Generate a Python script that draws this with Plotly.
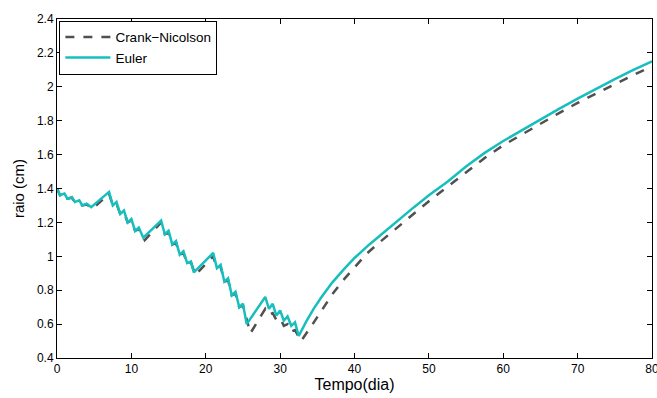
import plotly.graph_objects as go

# ---- data ----
euler_t = [0.0, 0.4, 1.0, 1.4, 2.0, 2.4, 3.0, 3.4, 4.0, 4.6, 7.0,
           7.5, 8.0, 8.5, 9.0, 9.5, 10.0, 10.5, 11.0, 11.6, 14.0,
           14.5, 15.0, 15.5, 16.0, 16.5, 17.0, 17.5, 18.0, 18.4, 21.0,
           21.5, 22.0, 22.5, 23.0, 23.5, 24.0, 24.5, 25.0, 25.5, 28.0,
           28.5, 29.0, 29.5, 30.0, 30.5, 31.0, 31.5, 32.0, 32.5,
           33.5, 34.5, 35.5, 37.0, 38.5, 40.0, 42.0, 44.0, 46.0, 48.0,
           50.0, 52.5, 55.0, 57.5, 60.0, 62.5, 65.0, 67.5, 70.0, 72.5,
           75.0, 77.5, 80.0]
euler_r = [1.40, 1.36, 1.37, 1.34, 1.35, 1.32, 1.33, 1.30, 1.31, 1.29, 1.38,
           1.30, 1.32, 1.25, 1.27, 1.20, 1.22, 1.15, 1.17, 1.11, 1.21,
           1.13, 1.15, 1.07, 1.09, 1.01, 1.03, 0.96, 0.97, 0.905, 1.02,
           0.93, 0.95, 0.85, 0.87, 0.77, 0.79, 0.70, 0.72, 0.60, 0.76,
           0.69, 0.72, 0.65, 0.68, 0.62, 0.645, 0.59, 0.61, 0.53,
           0.615, 0.69, 0.755, 0.845, 0.92, 0.99, 1.07, 1.145, 1.215, 1.29,
           1.36, 1.44, 1.53, 1.61, 1.68, 1.745, 1.81, 1.87, 1.93, 1.99,
           2.045, 2.10, 2.15]

cn_t = [0.0, 0.4, 1.0, 1.4, 2.0, 2.4, 3.0, 3.4, 4.0, 4.8, 7.0,
        7.5, 8.0, 8.5, 9.0, 9.5, 10.0, 10.5, 11.0, 11.8, 14.0,
        14.5, 15.0, 15.5, 16.0, 16.5, 17.0, 17.5, 18.0, 18.6, 21.0,
        21.5, 22.0, 22.5, 23.0, 23.5, 24.0, 24.5, 25.0, 26.0, 28.0,
        28.5, 29.0, 29.5, 30.0, 30.5, 31.0, 31.5, 32.0, 32.8,
        34.0, 35.6, 37.0, 38.5, 40.0, 41.7, 43.3, 44.8, 46.5, 48.4,
        50.0, 52.5, 55.0, 57.5, 60.0, 62.5, 65.0, 67.5, 70.0, 72.5,
        75.0, 77.5, 80.0]
cn_r = [1.40, 1.36, 1.37, 1.34, 1.345, 1.32, 1.325, 1.30, 1.305, 1.28, 1.37,
        1.30, 1.31, 1.25, 1.26, 1.20, 1.21, 1.15, 1.16, 1.095, 1.20,
        1.13, 1.14, 1.07, 1.08, 1.01, 1.02, 0.96, 0.965, 0.89, 1.00,
        0.93, 0.94, 0.85, 0.86, 0.77, 0.78, 0.70, 0.71, 0.546, 0.69,
        0.655, 0.665, 0.625, 0.635, 0.59, 0.60, 0.555, 0.565, 0.50,
        0.575, 0.683, 0.775, 0.86, 0.935, 1.018, 1.08, 1.136, 1.20, 1.27,
        1.325, 1.41, 1.495, 1.58, 1.655, 1.72, 1.785, 1.845, 1.905, 1.96,
        2.015, 2.07, 2.12]

x_ticks = [0, 10, 20, 30, 40, 50, 60, 70, 80]
y_ticks = [0.4, 0.6, 0.8, 1.0, 1.2, 1.4, 1.6, 1.8, 2.0, 2.2, 2.4]
y_tick_text = ["0.4", "0.6", "0.8", "1", "1.2", "1.4", "1.6", "1.8", "2", "2.2", "2.4"]

FONT = "Liberation Sans, Arial, Helvetica, sans-serif"

fig = go.Figure()
fig.add_trace(go.Scatter(x=cn_t, y=cn_r, mode="lines", name="Crank\u2212Nicolson",
                         line=dict(color="#505050", width=2.5, dash="dash")))
fig.add_trace(go.Scatter(x=euler_t, y=euler_r, mode="lines", name="Euler",
                         line=dict(color="#17BEBE", width=2.5)))

axis_common = dict(showline=True, linecolor="black", linewidth=1, mirror="ticks",
                   ticks="inside", ticklen=5, tickcolor="black", tickwidth=1,
                   showgrid=False, zeroline=False, automargin=False,
                   ticklabeloverflow="allow",
                   tickfont=dict(family=FONT, size=12, color="black"))

fig.update_xaxes(range=[0, 80], tickvals=x_ticks,
                 title=dict(text="Tempo(dia)", font=dict(family=FONT, size=16, color="black"), standoff=3),
                 **axis_common)
fig.update_yaxes(range=[0.4, 2.4], tickvals=y_ticks, ticktext=y_tick_text,
                 title=dict(text="raio (cm)", font=dict(family=FONT, size=15, color="black"), standoff=8),
                 **axis_common)

fig.update_layout(
    width=657, height=398,
    margin=dict(l=57, r=5, t=19, b=40),
    paper_bgcolor="white", plot_bgcolor="white",
    showlegend=True,
    legend=dict(x=0.004, y=0.995, xanchor="left", yanchor="top",
                bgcolor="white", bordercolor="black", borderwidth=1,
                font=dict(family=FONT, size=13.5, color="black"),
                itemwidth=45, tracegroupgap=0),
)

fig.write_html("out.html")
